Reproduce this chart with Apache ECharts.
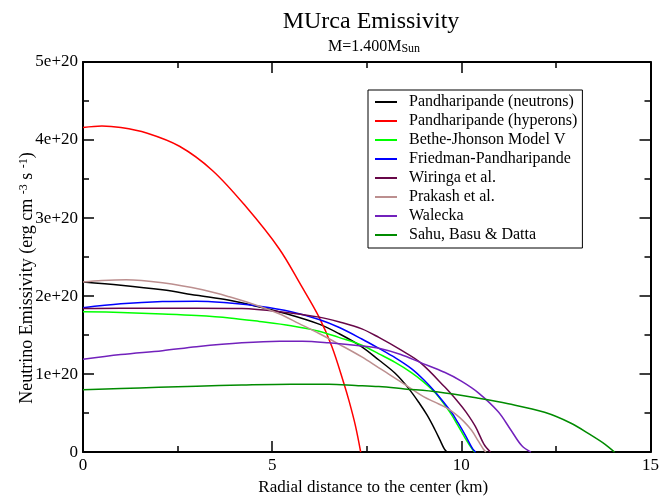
<!DOCTYPE html>
<html>
<head>
<meta charset="utf-8">
<script src="https://cdn.jsdelivr.net/npm/echarts@6/dist/echarts.min.js"></script>
<style>
  html, body { margin: 0; padding: 0; background: #fff; }
  #chart { width: 662px; height: 501px; }
</style>
</head>
<body>
<div id="chart"></div>
<script>
// Modified Urca neutrino emissivity profiles, M = 1.4 Msun, for several equations of state.
// Each profile: [radial distance (km), emissivity (erg cm^-3 s^-1)], ending where it drops to zero.

const seriesNames = [
  'Pandharipande (neutrons)',
  'Pandharipande (hyperons)',
  'Bethe-Jhonson Model V',
  'Friedman-Pandharipande',
  'Wiringa et al.',
  'Prakash et al.',
  'Walecka',
  'Sahu, Basu & Datta'
];

const seriesColors = ['#000000', '#ff0000', '#00ff00', '#0000ff', '#670748', '#bc8f8f', '#7221bc', '#008b00'];

const pandharipandeNeutrons = [
  [0, 2.18e20], [1, 2.14e20], [2.1, 2.08e20], [3, 2.01e20], [3.87, 1.945e20], [4.66, 1.86e20],
  [5.4, 1.77e20], [6.24, 1.64e20], [6.76, 1.52e20], [7.37, 1.35e20], [7.82, 1.18e20], [8.25, 1.01e20],
  [8.6, 0.82e20], [8.9, 0.62e20], [9.1, 0.47e20], [9.3, 0.29e20], [9.45, 0.14e20], [9.55, 0.04e20],
  [9.62, 0]
];

const pandharipandeHyperons = [
  [0, 4.16e20], [0.5, 4.18e20], [1, 4.16e20], [1.68, 4.09e20], [2.55, 3.92e20], [3.42, 3.61e20],
  [4.3, 3.15e20], [5.18, 2.61e20], [5.76, 2.14e20], [6.24, 1.73e20], [6.58, 1.35e20], [6.89, 0.89e20],
  [7.03, 0.66e20], [7.2, 0.34e20], [7.34, 0]
];

const betheJohnson = [
  [0, 1.80e20], [1, 1.79e20], [2.1, 1.77e20], [3, 1.75e20], [3.87, 1.72e20], [4.66, 1.675e20],
  [5.5, 1.62e20], [6.24, 1.55e20], [6.76, 1.47e20], [7.37, 1.37e20], [7.82, 1.26e20], [8.25, 1.15e20],
  [8.68, 1.02e20], [9.0, 0.90e20], [9.31, 0.76e20], [9.7, 0.51e20], [9.9, 0.35e20], [10.1, 0.18e20],
  [10.3, 0.03e20], [10.36, 0]
];

const friedmanPandharipande = [
  [0, 1.85e20], [1, 1.90e20], [2.1, 1.93e20], [3, 1.935e20], [3.87, 1.91e20], [4.66, 1.87e20],
  [5.5, 1.80e20], [6.24, 1.70e20], [6.76, 1.60e20], [7.37, 1.45e20], [7.82, 1.33e20], [8.25, 1.21e20],
  [8.68, 1.07e20], [9.0, 0.93e20], [9.31, 0.77e20], [9.74, 0.51e20], [9.92, 0.37e20], [10.1, 0.22e20],
  [10.3, 0.04e20], [10.38, 0]
];

const wiringa = [
  [0, 1.84e20], [1, 1.845e20], [2.1, 1.845e20], [3, 1.845e20], [4.2, 1.84e20], [5.2, 1.80e20],
  [6.24, 1.73e20], [6.76, 1.67e20], [7.37, 1.58e20], [7.82, 1.47e20], [8.4, 1.31e20], [8.91, 1.15e20],
  [9.57, 0.83e20], [9.92, 0.64e20], [10.13, 0.51e20], [10.37, 0.33e20], [10.6, 0.10e20], [10.77, 0]
];

const prakash = [
  [0, 2.18e20], [0.5, 2.20e20], [1.14, 2.21e20], [2.1, 2.17e20], [3.16, 2.08e20], [3.87, 1.99e20],
  [4.66, 1.87e20], [5.2, 1.77e20], [5.7, 1.65e20], [6.24, 1.52e20], [6.76, 1.385e20], [7.37, 1.22e20],
  [7.82, 1.08e20], [8.08, 1.00e20], [8.68, 0.81e20], [9.0, 0.71e20], [9.3, 0.64e20], [9.6, 0.57e20],
  [9.84, 0.49e20], [10.05, 0.40e20], [10.27, 0.28e20], [10.45, 0.14e20], [10.58, 0.04e20], [10.65, 0]
];

const walecka = [
  [0, 1.19e20], [1, 1.25e20], [2.1, 1.30e20], [3, 1.35e20], [4.2, 1.40e20], [5.2, 1.42e20],
  [5.8, 1.42e20], [6.5, 1.40e20], [7.37, 1.36e20], [7.82, 1.33e20], [8.4, 1.25e20], [8.91, 1.15e20],
  [9.57, 1.02e20], [10.0, 0.91e20], [10.45, 0.76e20], [10.97, 0.52e20], [11.3, 0.29e20], [11.6, 0.08e20],
  [11.84, 0]
];

const sahuBasuDatta = [
  [0, 0.80e20], [1, 0.815e20], [2, 0.83e20], [3, 0.845e20], [4.2, 0.86e20], [5.5, 0.87e20],
  [6.5, 0.87e20], [7.2, 0.855e20], [7.82, 0.84e20], [8.5, 0.81e20], [9.39, 0.77e20], [10.45, 0.69e20],
  [11.24, 0.62e20], [12.2, 0.51e20], [12.9, 0.37e20], [13.42, 0.22e20], [13.8, 0.10e20], [14.05, 0]
];

const profiles = [
  pandharipandeNeutrons, pandharipandeHyperons, betheJohnson, friedmanPandharipande,
  wiringa, prakash, walecka, sahuBasuDatta
];

const xTickValues = [0, 5, 10, 15];
const yTickValues = [0, 1e20, 2e20, 3e20, 4e20, 5e20];
const yTickLabels = ['0', '1e+20', '2e+20', '3e+20', '4e+20', '5e+20'];

const FONT = 'Liberation Serif';
const INK = '#000';

function frameAxis(extra) {
  return Object.assign({
    type: 'value',
    axisLine: { show: true, onZero: false, lineStyle: { color: INK, width: 2 } },
    axisTick: { show: true, inside: true, length: 11, lineStyle: { color: INK, width: 1.5 } },
    minorTick: { show: true, splitNumber: 2, length: 6, lineStyle: { color: INK, width: 1.5 } },
    splitLine: { show: false },
    minorSplitLine: { show: false },
    axisLabel: { show: false }
  }, extra);
}

const chart = echarts.init(document.getElementById('chart'), null, { renderer: 'canvas' });

chart.setOption({
  animation: false,
  backgroundColor: '#fff',
  grid: { left: 83, right: 9, top: 62, bottom: 40, containLabel: false },
  xAxis: [
    frameAxis({
      min: 0, max: 15, interval: 5, position: 'bottom',
      axisLabel: {
        show: true, fontFamily: FONT, fontSize: 17, color: INK, margin: 5,
        formatter: v => String(xTickValues.find(t => Math.abs(t - v) < 1e-9) ?? v)
      },
      name: 'Radial distance to the center (km)',
      nameLocation: 'middle',
      nameGap: 21,
      nameTextStyle: { fontFamily: FONT, fontSize: 17, color: INK, padding: [0, 0, 0, 13] }
    }),
    frameAxis({ min: 0, max: 15, interval: 5, position: 'top' })
  ],
  yAxis: [
    frameAxis({
      min: 0, max: 5e20, interval: 1e20, position: 'left',
      axisLabel: {
        show: true, fontFamily: FONT, fontSize: 17, color: INK, margin: 5,
        formatter: v => {
          const i = yTickValues.findIndex(t => Math.abs(t - v) < 1e10);
          return i >= 0 ? yTickLabels[i] : '';
        }
      }
    }),
    frameAxis({ min: 0, max: 5e20, interval: 1e20, position: 'right' })
  ],
  legend: {
    orient: 'vertical',
    left: 368,
    top: 90,
    padding: [4, 5, 5, 7],
    itemGap: 3,
    itemWidth: 22,
    itemHeight: 2,
    icon: 'rect',
    backgroundColor: '#fff',
    borderColor: INK,
    borderWidth: 1,
    borderRadius: 0,
    data: seriesNames,
    textStyle: { fontFamily: FONT, fontSize: 16, color: INK, lineHeight: 16, padding: [0, 0, 0, 7] }
  },
  graphic: [
    {
      type: 'text', x: 371, y: 22,
      style: { text: 'MUrca Emissivity', font: '24px "Liberation Serif"', fill: INK, align: 'center', verticalAlign: 'middle' }
    },
    {
      type: 'text', x: 374, y: 47,
      style: {
        text: '{m|M=1.400M}{s|Sun}',
        align: 'center', verticalAlign: 'middle',
        rich: {
          m: { fontFamily: FONT, fontSize: 16, lineHeight: 16, color: INK, verticalAlign: 'top' },
          s: { fontFamily: FONT, fontSize: 12, lineHeight: 12, color: INK, verticalAlign: 'bottom', padding: [9, 0, 0, 0] }
        }
      }
    },
    {
      type: 'text', x: 27, y: 278, rotation: Math.PI / 2,
      style: {
        text: '{n|Neutrino Emissivity (erg cm }{p|-3}{n| s }{p|-1}{n|)}',
        align: 'center', verticalAlign: 'middle',
        rich: {
          n: { fontFamily: FONT, fontSize: 18, lineHeight: 18, color: INK, verticalAlign: 'bottom' },
          p: { fontFamily: FONT, fontSize: 12, lineHeight: 12, color: INK, verticalAlign: 'top', padding: [0, 0, 9, 0] }
        }
      }
    }
  ],
  series: profiles.map((data, i) => ({
    name: seriesNames[i],
    type: 'line',
    xAxisIndex: 0,
    yAxisIndex: 0,
    data: data,
    symbol: 'none',
    smooth: 0.35,
    clip: true,
    color: seriesColors[i],
    lineStyle: { color: seriesColors[i], width: 1.5 },
    z: 2 + i
  }))
});
</script>
</body>
</html>
